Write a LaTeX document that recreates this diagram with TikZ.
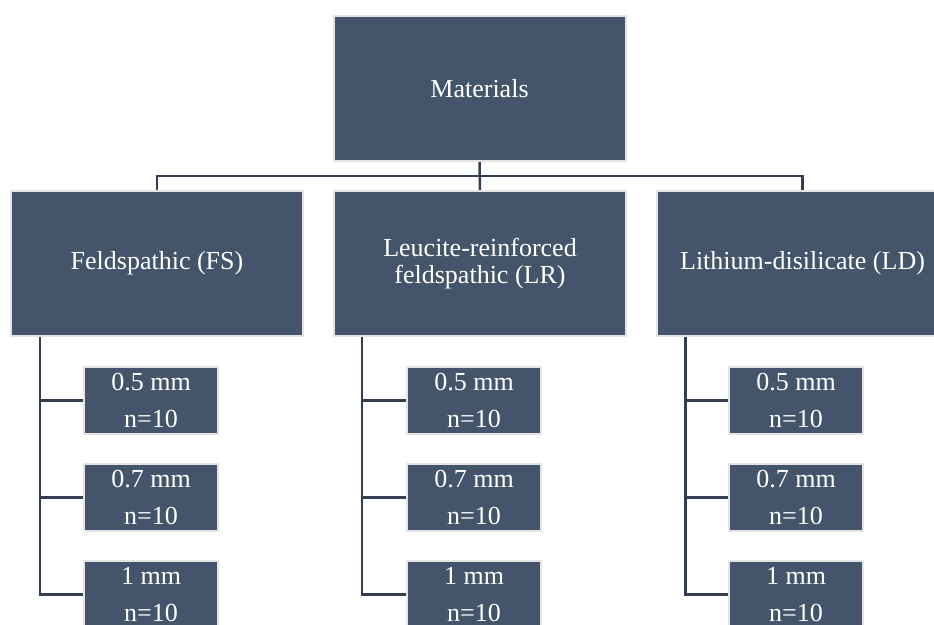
\documentclass[tikz,border=0pt]{standalone}
\usepackage{fontspec}
\setmainfont{Liberation Serif}
\definecolor{boxfill}{HTML}{44546A}
\definecolor{boxedge}{HTML}{E4E4E4}
\definecolor{linkcol}{HTML}{333F50}
\tikzset{
    bigbox/.style={draw=boxedge, line width=2pt, fill=boxfill, text=white,
        minimum width=292pt, minimum height=145pt, inner sep=0pt, align=center,
        font=\fontsize{26}{27}\selectfont},
    smallbox/.style={draw=boxedge, line width=2pt, fill=boxfill, text=white,
        minimum width=134pt, minimum height=67pt, inner sep=0pt, align=center,
        font=\fontsize{26}{37}\selectfont},
    link/.style={draw=linkcol, line width=2.5pt}
}
\begin{document}
\begin{tikzpicture}[x=1pt, y=-1pt]
        \useasboundingbox (0,0) rectangle (934,624);
        \clip (0,0) rectangle (934,624);

        \node[bigbox] (mat) at (479.5,88.5) {Materials};
        \node[bigbox] (fs) at (157,263.5) {Feldspathic (FS)};
        \node[bigbox] (lr) at (480,263.5) {Leucite-reinforced\\feldspathic (LR)};
        \node[bigbox] (ld) at (802.5,263.5) {Lithium-disilicate (LD)};

        \node[smallbox] (fs1) at (151,400.5) {0.5 mm\\n=10};
        \node[smallbox] (fs2) at (151,497.5) {0.7 mm\\n=10};
        \node[smallbox] (fs3) at (151,594.5) {1 mm\\n=10};
        \node[smallbox] (lr1) at (474,400.5) {0.5 mm\\n=10};
        \node[smallbox] (lr2) at (474,497.5) {0.7 mm\\n=10};
        \node[smallbox] (lr3) at (474,594.5) {1 mm\\n=10};
        \node[smallbox] (ld1) at (796,400.5) {0.5 mm\\n=10};
        \node[smallbox] (ld2) at (796,497.5) {0.7 mm\\n=10};
        \node[smallbox] (ld3) at (796,594.5) {1 mm\\n=10};

        \draw [link] (mat.south) -- (lr.north);
        \draw [link] (fs.north) -- ++(0,-14) -| (ld.north);

        \draw [link] ([xshift=30pt]fs.south west) |- (fs1.west);
        \draw [link] ([xshift=30pt]fs.south west) |- (fs2.west);
        \draw [link] ([xshift=30pt]fs.south west) |- (fs3.west);
        \draw [link] ([xshift=29pt]lr.south west) |- (lr1.west);
        \draw [link] ([xshift=29pt]lr.south west) |- (lr2.west);
        \draw [link] ([xshift=29pt]lr.south west) |- (lr3.west);
        \draw [link] ([xshift=30pt]ld.south west) |- (ld1.west);
        \draw [link] ([xshift=30pt]ld.south west) |- (ld2.west);
        \draw [link] ([xshift=30pt]ld.south west) |- (ld3.west);
    \end{tikzpicture}
\end{document}
